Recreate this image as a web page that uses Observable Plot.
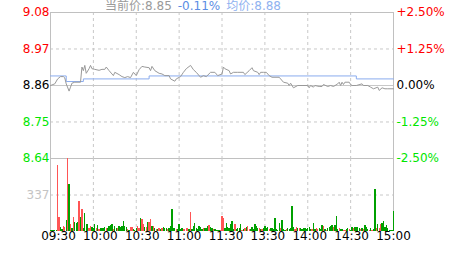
<!DOCTYPE html>
<html>
<head>
<meta charset="utf-8">
<script src="https://cdn.jsdelivr.net/npm/d3@7"></script>
<script src="https://cdn.jsdelivr.net/npm/@observablehq/plot@0.6"></script>
<style>
  html, body { margin: 0; padding: 0; background: #fff; }
  #wrap { position: relative; width: 463px; height: 255px; overflow: hidden; font-family: "DejaVu Sans", "Noto Sans CJK SC", sans-serif; }
  #p1, #p2 { position: absolute; left: 0; }
  #p1 { top: 0; }
  #p2 { top: 150px; }
  #title { position: absolute; left: 105px; top: 0; font-size: 12px; line-height: 12px; white-space: nowrap; }
  #title span + span { margin-left: 6px; }
</style>
</head>
<body>
<div id="wrap">
  <div id="p1"></div>
  <div id="p2"></div>
  <div id="title"><span style="color:#9a9a9a">当前价:8.85</span><span style="color:#5b8de4">-0.11%</span><span style="color:#8fb2f0">均价:8.88</span></div>
</div>
<script>
// ---- data ----
const prevClose = 8.86;
const priceLevels = [9.0815, 8.9708, 8.86, 8.7493, 8.6385];
const priceTickLabels = ["9.08", "8.97", "8.86", "8.75", "8.64"];
const pctTickLabels = ["+2.50%", "+1.25%", "0.00%", "-1.25%", "-2.50%"];
const timeTickMinutes = [0, 30, 60, 90, 120, 150, 180, 210, 240];
const timeTickLabels = ["09:30", "10:00", "10:30", "11:00", "11:30", "13:30", "14:00", "14:30", "15:00"];
const volTicks = [337];
const volMax = 674;

const priceMinutes = [0,3,5,7,9,10,11,13,14,15,17,21,22,23,24,25,27,28,29,31,34,36,38,39,41,43,44,45,48,50,52,54,56,58,60,62,64,66,69,70,71,73,76,78,80,83,84,87,88,91,93,95,98,100,102,105,107,109,112,115,117,120,121,122,125,126,128,131,135,136,139,141,142,145,146,147,149,151,153,155,160,161,163,166,167,168,170,173,176,180,181,182,184,185,188,190,191,194,196,198,201,202,203,204,205,206,209,210,211,214,218,219,222,224,226,229,230,232,234,236,240];
const priceValues = [8.860,8.865,8.880,8.887,8.887,8.883,8.865,8.843,8.855,8.867,8.870,8.870,8.916,8.905,8.921,8.897,8.911,8.921,8.911,8.909,8.906,8.909,8.909,8.916,8.905,8.895,8.890,8.900,8.893,8.887,8.884,8.887,8.884,8.900,8.890,8.908,8.918,8.916,8.914,8.905,8.918,8.905,8.897,8.895,8.890,8.890,8.880,8.873,8.880,8.887,8.900,8.911,8.921,8.908,8.900,8.885,8.890,8.887,8.900,8.900,8.890,8.895,8.916,8.911,8.905,8.895,8.900,8.900,8.900,8.893,8.905,8.914,8.905,8.900,8.893,8.900,8.900,8.900,8.890,8.885,8.885,8.880,8.870,8.867,8.860,8.867,8.853,8.860,8.860,8.860,8.853,8.860,8.855,8.860,8.857,8.857,8.863,8.857,8.860,8.857,8.865,8.870,8.860,8.870,8.863,8.870,8.870,8.863,8.860,8.860,8.865,8.860,8.860,8.855,8.850,8.855,8.845,8.853,8.850,8.850,8.850];

const avgMinutes = [0, 11, 23, 69, 214, 240];
const avgValues = [8.889, 8.872, 8.880, 8.889, 8.880, 8.880];

const volumes = [6,5,5,6,5,609,129,37,18,49,40,102,674,434,65,31,129,86,77,86,277,129,203,31,166,65,65,31,49,37,25,65,25,55,18,31,25,31,40,31,31,49,55,65,18,49,25,31,49,40,49,92,49,40,18,9,37,37,18,9,31,49,31,123,111,62,40,40,86,86,111,49,49,25,18,18,25,18,25,40,31,31,18,31,43,203,31,25,18,18,62,18,31,18,18,31,25,18,178,18,49,74,31,18,49,40,18,25,25,31,49,55,40,31,18,18,9,9,9,9,138,123,31,71,40,25,62,92,18,62,18,25,31,65,9,18,25,40,49,18,18,40,18,62,49,31,31,18,18,31,49,25,40,18,31,25,18,123,18,9,71,31,105,18,9,18,31,18,25,231,40,18,40,25,31,31,18,31,31,18,31,40,18,18,71,18,31,18,31,18,55,49,18,9,31,40,49,55,40,55,138,18,31,18,18,9,9,18,31,18,9,40,25,40,40,40,25,18,31,18,55,40,18,9,25,9,18,388,31,62,31,62,71,92,40,55,25,9,9,9,185];
const volUp = [0,0,0,0,0,1,1,0,0,1,1,0,1,0,1,0,1,0,0,0,1,0,1,0,0,0,0,1,1,0,0,0,1,0,1,0,0,0,0,1,0,0,0,0,1,0,0,1,0,0,0,0,0,0,1,0,1,1,0,0,0,1,1,0,1,1,0,1,0,1,1,0,1,0,1,0,1,0,1,0,0,0,1,0,0,0,0,0,1,0,0,0,0,1,1,1,1,0,1,0,0,0,0,0,0,0,0,1,0,0,0,1,0,0,1,0,0,0,0,1,1,1,0,0,0,0,0,0,0,1,0,0,0,0,1,0,1,0,1,1,0,0,0,0,0,0,1,0,1,0,0,0,0,1,0,0,0,0,0,0,0,1,0,0,0,1,0,0,0,0,0,1,1,0,1,0,0,0,0,0,0,0,0,1,0,0,1,1,0,0,0,1,0,1,0,0,0,0,1,0,0,0,1,0,0,1,1,0,0,1,0,0,1,0,0,0,0,1,0,1,0,0,0,1,0,1,0,0,1,0,1,1,0,0,0,0,0,0,0,0];

// ---- derived tables ----
const price = priceMinutes.map((m, i) => ({m, p: priceValues[i]}));
const avg = avgMinutes.map((m, i) => ({m, p: avgValues[i]}));
const bars = volumes.map((v, i) => ({m: i, v, up: volUp[i]}));
const gridMinutes = timeTickMinutes.slice(1, -1);

const RED = "#ff0000", GREEN = "#00e600", GRID = "#c8c8c8", FRAME = "#c0c0c0";
const levelColor = (d, i) => (i < 2 ? RED : i === 2 ? "#000" : GREEN);
const plotStyle = {background: "transparent", fontFamily: "'DejaVu Sans', sans-serif", fontSize: "12px", overflow: "visible"};

const pricePlot = Plot.plot({
  width: 463, height: 170,
  marginTop: 12, marginBottom: 12, marginLeft: 50, marginRight: 70,
  x: {domain: [0, 240], axis: null},
  y: {domain: [priceLevels[4], priceLevels[0]], axis: null},
  color: {type: "identity"},
  style: plotStyle,
  marks: [
    Plot.ruleY([priceLevels[1], priceLevels[3]], {y: d => d, stroke: GRID, strokeDasharray: "3,3"}),
    Plot.ruleY([prevClose], {y: d => d, stroke: GRID}),
    Plot.ruleX(gridMinutes, {x: d => d, stroke: GRID, strokeDasharray: "3,3"}),
    Plot.frame({stroke: FRAME}),
    Plot.line(avg, {x: "m", y: "p", curve: "step-after", stroke: "#8aabee", strokeWidth: 1}),
    Plot.line(price, {x: "m", y: "p", stroke: "#999999", strokeWidth: 1}),
    Plot.text(priceLevels, {y: d => d, text: (d, i) => priceTickLabels[i], frameAnchor: "left", textAnchor: "end", dx: -1, fill: levelColor}),
    Plot.text(priceLevels, {y: d => d, text: (d, i) => pctTickLabels[i], frameAnchor: "right", textAnchor: "start", dx: 3, fill: levelColor})
  ]
});
document.getElementById("p1").appendChild(pricePlot);

const volumePlot = Plot.plot({
  width: 463, height: 105,
  marginTop: 8, marginBottom: 24, marginLeft: 50, marginRight: 70,
  x: {domain: [0, 240], axis: null},
  y: {domain: [0, volMax], axis: null},
  color: {type: "identity"},
  style: plotStyle,
  marks: [
    Plot.ruleY(volTicks, {y: d => d, stroke: GRID, strokeDasharray: "3,3"}),
    Plot.ruleX(gridMinutes, {x: d => d, stroke: GRID, strokeDasharray: "3,3"}),
    Plot.ruleX([timeTickMinutes[0], timeTickMinutes[timeTickMinutes.length - 1]], {x: d => d, stroke: FRAME}),
    Plot.ruleX(bars, {x: "m", y1: 0, y2: "v", stroke: d => (d.up ? "#ff5555" : "#00a000"), strokeWidth: 1.3, shapeRendering: "crispEdges"}),
    Plot.text(volTicks, {y: d => d, text: d => String(d), frameAnchor: "left", textAnchor: "end", dx: -1, fill: "#c4c4c4"}),
    ...timeTickLabels.map((t, i) =>
      Plot.text([timeTickMinutes[i]], {x: d => d, text: () => t, frameAnchor: "bottom", dy: 8, dx: 8 - i, fill: "#000"})
    )
  ]
});
document.getElementById("p2").appendChild(volumePlot);
</script>
</body>
</html>
